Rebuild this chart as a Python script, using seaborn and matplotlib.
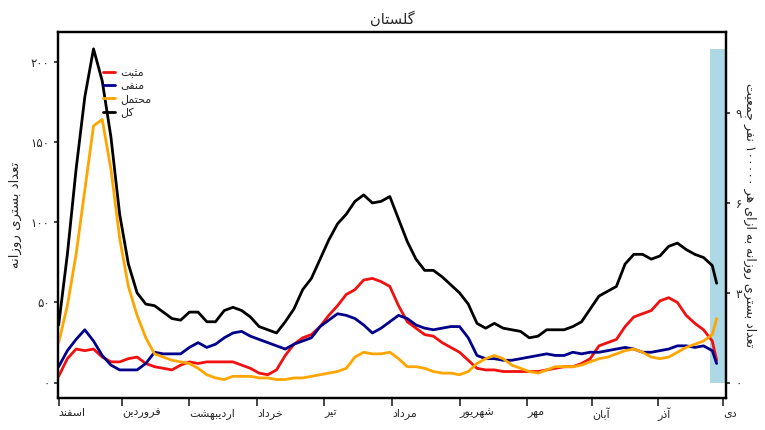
import re
import numpy as np
import pandas as pd
import matplotlib
matplotlib.use("Agg")
import matplotlib.pyplot as plt
import seaborn as sns

# ---------------- data ----------------
days = list(range(0, 301, 4)) + [302]

positive = [4, 15, 21, 20, 21, 16, 13, 13, 15, 16, 12, 10, 9, 8, 11, 13, 12, 13, 13, 13,
            13, 11, 9, 6, 5, 8, 17, 24, 28, 30, 35, 42, 48, 55, 58, 64, 65, 63, 60, 48,
            38, 34, 30, 29, 25, 22, 19, 14, 9, 8, 8, 7, 7, 7, 7, 7, 8, 9, 10, 10,
            12, 15, 23, 25, 27, 35, 41, 43, 45, 51, 53, 50, 42, 37, 33, 26, 14]
negative = [10, 20, 27, 33, 26, 17, 11, 8, 8, 8, 12, 19, 18, 18, 18, 22, 25, 22, 24, 28,
            31, 32, 29, 27, 25, 23, 21, 24, 26, 28, 35, 39, 43, 42, 40, 36, 31, 34, 38, 42,
            40, 36, 34, 33, 34, 35, 35, 28, 17, 15, 15, 14, 14, 15, 16, 17, 18, 17, 17, 19,
            18, 19, 19, 20, 21, 22, 21, 19, 19, 20, 21, 23, 23, 22, 23, 20, 12]
probable = [25, 48, 80, 120, 160, 164, 133, 90, 60, 42, 28, 18, 16, 14, 13, 12, 9, 5, 3, 2,
            4, 4, 4, 3, 3, 2, 2, 3, 3, 4, 5, 6, 7, 9, 16, 19, 18, 18, 19, 15,
            10, 10, 9, 7, 6, 6, 5, 7, 12, 15, 17, 15, 11, 9, 7, 6, 8, 10, 10, 10,
            11, 13, 15, 16, 18, 20, 21, 19, 16, 15, 16, 19, 22, 24, 26, 30, 40]
total = [36, 80, 133, 178, 208, 188, 153, 105, 74, 56, 49, 48, 44, 40, 39, 44, 44, 38, 38, 45,
         47, 45, 41, 35, 33, 31, 38, 46, 58, 65, 77, 89, 99, 105, 113, 117, 112, 113, 116, 102,
         88, 77, 70, 70, 66, 61, 56, 49, 37, 34, 37, 34, 33, 32, 28, 29, 33, 33, 33, 35,
         38, 46, 54, 57, 60, 74, 80, 80, 77, 79, 85, 87, 83, 80, 78, 73, 62]

series_names = ["مثبت", "منفی", "محتمل", "کل"]
series_colors = ["#f01010", "#00008b", "#ffa500", "#000000"]

month_names = ["اسفند", "فروردین", "اردیبهشت", "خرداد", "تیر", "مرداد",
               "شهریور", "مهر", "آبان", "آذر", "دی"]
month_start_days = [0, 29, 60, 91, 122, 153, 184, 215, 245, 275, 305]

left_ticks = [0, 50, 100, 150, 200]
left_tick_labels = ["۰", "۵۰", "۱۰۰", "۱۵۰", "۲۰۰"]
right_ticks = [0, 3, 6, 9]
right_tick_labels = ["۰", "۳", "۶", "۹"]

population = 1868819
title_text = "گلستان"
left_label = "تعداد بستری روزانه"
right_label = "تعداد بستری روزانه به ازای هر ۱۰۰۰۰۰ نفر جمعیت"
incomplete_from, incomplete_to = 299, 306

# ---------------- minimal Arabic-script shaping ----------------
FORMS = {  # isolated, final, initial, medial
    "ا": ("\uFE8D", "\uFE8E", None, None),
    "آ": ("\uFE81", "\uFE82", None, None),
    "ب": ("\uFE8F", "\uFE90", "\uFE91", "\uFE92"),
    "ت": ("\uFE95", "\uFE96", "\uFE97", "\uFE98"),
    "ث": ("\uFE99", "\uFE9A", "\uFE9B", "\uFE9C"),
    "ج": ("\uFE9D", "\uFE9E", "\uFE9F", "\uFEA0"),
    "ح": ("\uFEA1", "\uFEA2", "\uFEA3", "\uFEA4"),
    "خ": ("\uFEA5", "\uFEA6", "\uFEA7", "\uFEA8"),
    "د": ("\uFEA9", "\uFEAA", None, None),
    "ذ": ("\uFEAB", "\uFEAC", None, None),
    "ر": ("\uFEAD", "\uFEAE", None, None),
    "ز": ("\uFEAF", "\uFEB0", None, None),
    "س": ("\uFEB1", "\uFEB2", "\uFEB3", "\uFEB4"),
    "ش": ("\uFEB5", "\uFEB6", "\uFEB7", "\uFEB8"),
    "ع": ("\uFEC9", "\uFECA", "\uFECB", "\uFECC"),
    "ف": ("\uFED1", "\uFED2", "\uFED3", "\uFED4"),
    "ل": ("\uFEDD", "\uFEDE", "\uFEDF", "\uFEE0"),
    "م": ("\uFEE1", "\uFEE2", "\uFEE3", "\uFEE4"),
    "ن": ("\uFEE5", "\uFEE6", "\uFEE7", "\uFEE8"),
    "ه": ("\uFEE9", "\uFEEA", "\uFEEB", "\uFEEC"),
    "و": ("\uFEED", "\uFEEE", None, None),
    "ی": ("\uFBFC", "\uFBFD", "\uFBFE", "\uFBFF"),
    "ک": ("\uFB8E", "\uFB8F", "\uFB90", "\uFB91"),
    "گ": ("\uFB92", "\uFB93", "\uFB94", "\uFB95"),
}


def shape(text):
    out = []
    n = len(text)
    for i, ch in enumerate(text):
        if ch not in FORMS:
            out.append(ch)
            continue
        prev = text[i - 1] if i > 0 else None
        nxt = text[i + 1] if i < n - 1 else None
        jp = prev in FORMS and FORMS[prev][2] is not None
        jn = FORMS[ch][2] is not None and nxt in FORMS
        iso, fin, ini, med = FORMS[ch]
        if jp and jn:
            out.append(med)
        elif jp:
            out.append(fin)
        elif jn:
            out.append(ini)
        else:
            out.append(iso)
    vis = "".join(out)[::-1]
    vis = re.sub("[۰-۹]+", lambda m: m.group(0)[::-1], vis)
    return vis


# ---------------- plotting ----------------
sns.set_style("ticks")
plt.rcParams["font.family"] = ["DejaVu Sans"]

fig = plt.figure(figsize=(7.65, 4.30), dpi=100)
ax = fig.add_axes([58 / 765, 32 / 430, 668 / 765, 366 / 430])

ax.fill_between([incomplete_from, incomplete_to], 0, max(total),
                color="#add8e6", linewidth=0, zorder=1)

values = [positive, negative, probable, total]
frames = []
for name, vals in zip(series_names, values):
    frames.append(pd.DataFrame({"day": days, "value": vals, "series": shape(name)}))
df = pd.concat(frames, ignore_index=True)
shaped_names = [shape(n) for n in series_names]

sns.lineplot(data=df, x="day", y="value", hue="series", hue_order=shaped_names,
             palette=dict(zip(shaped_names, series_colors)), linewidth=2.0,
             ax=ax, zorder=3)

ax.set_xlim(-0.3, 306.3)
ylim = (-9.5, 218.5)
ax.set_ylim(*ylim)

ax.set_yticks(left_ticks)
ax.set_yticklabels(left_tick_labels, fontsize=8.5)
ax.set_xticks(month_start_days)
ax.set_xticklabels([shape(m) for m in month_names], fontsize=8, ha="left")
ax.tick_params(axis="x", length=6, width=1.2, pad=1)
ax.tick_params(axis="y", length=3, width=1.2, pad=3)
ax.set_xlabel("")
ax.set_ylabel(shape(left_label), fontsize=9.5, labelpad=6)
ax.set_title(shape(title_text), fontsize=10.5, pad=6)

ax2 = ax.twinx()
factor = population / 100000
ax2.set_ylim(ylim[0] / factor, ylim[1] / factor)
ax2.set_yticks(right_ticks)
ax2.set_yticklabels(right_tick_labels, fontsize=8.5)
ax2.tick_params(axis="y", length=3, width=1.2, pad=4)
ax2.set_ylabel(shape(right_label), fontsize=9, rotation=270, labelpad=10)

for a in (ax, ax2):
    for sp in a.spines.values():
        sp.set_linewidth(1.6)
        sp.set_color("black")

leg = ax.legend(loc="upper left", bbox_to_anchor=(0.052, 0.93), frameon=False,
                fontsize=8, handlelength=1.1, handletextpad=0.5, labelspacing=0.3)

fig.savefig("out.png", dpi=100)
